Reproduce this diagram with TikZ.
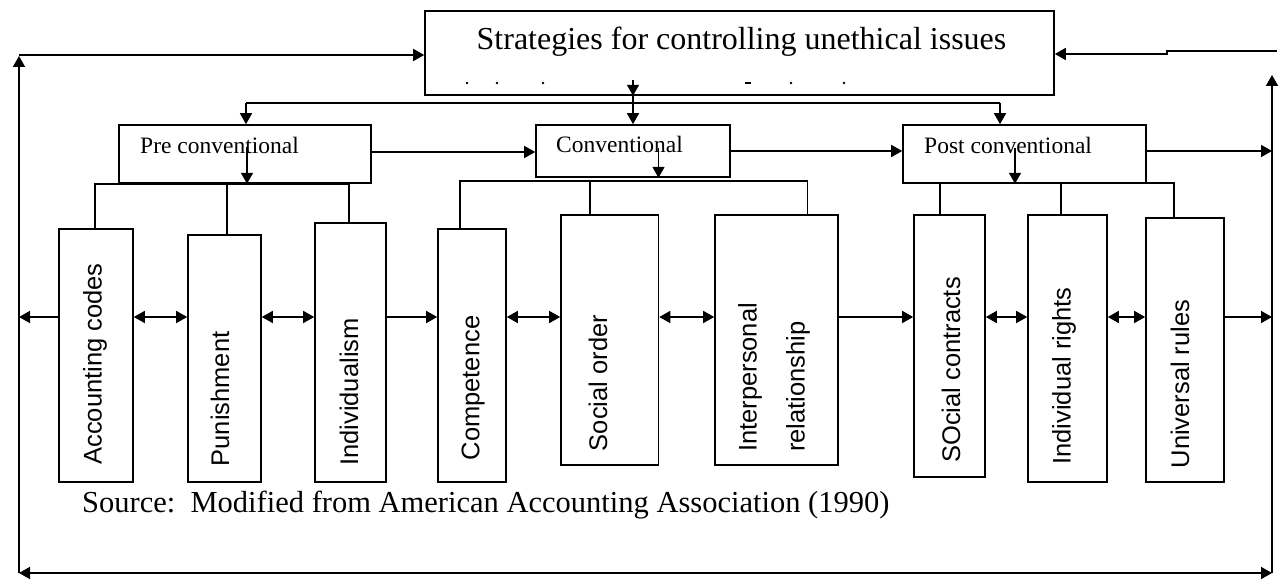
\documentclass[tikz,border=0pt]{standalone}
\usepackage{fontspec}
\setmainfont{Liberation Serif}
\newfontfamily\arialf{Liberation Sans}
\usetikzlibrary{arrows.meta}
\begin{document}
\begin{tikzpicture}[x=1pt,y=-1pt,
  boxst/.style={draw, line width=1.6pt, inner sep=0pt, rectangle},
  ln/.style={line width=1.6pt},
  arr/.style={ln, -{Triangle[length=11pt,width=12pt]}},
  darr/.style={ln, {Triangle[length=11pt,width=12pt]}-{Triangle[length=11pt,width=12pt]}},
  vlab/.style={rotate=90, font=\arialf\fontsize{25.5}{30}\selectfont, inner sep=0pt},
  hlab/.style={font=\fontsize{23.5}{28}\selectfont, inner sep=0pt, anchor=base west}]
\useasboundingbox (0,0) rectangle (1285,580);

% boxes
\node[boxst, minimum width=629pt, minimum height=84pt] (top) at (739.5,53) {};
\node[boxst, minimum width=252pt, minimum height=58pt] (pre) at (245,154) {};
\node[boxst, minimum width=194pt, minimum height=52pt] (conv) at (633,151) {};
\node[boxst, minimum width=243pt, minimum height=58pt] (post) at (1024.5,154) {};
\node[boxst, minimum width=74pt, minimum height=253pt] (acc) at (96,355.5) {};
\node[boxst, minimum width=73pt, minimum height=247pt] (pun) at (224.5,358.5) {};
\node[boxst, minimum width=71pt, minimum height=259pt] (ind) at (350.5,352.5) {};
\node[boxst, minimum width=68pt, minimum height=253pt] (comp) at (472,355.5) {};
\node[boxst, minimum width=97.5pt, minimum height=250pt] (soc) at (609.75,340) {};
\node[boxst, minimum width=123pt, minimum height=250pt] (inter) at (776.5,340) {};
\node[boxst, minimum width=71pt, minimum height=262pt] (scon) at (949.5,346) {};
\node[boxst, minimum width=79pt, minimum height=267pt] (irig) at (1067.5,348.5) {};
\node[boxst, minimum width=78pt, minimum height=264pt] (univ) at (1185,350) {};

% texts
\node[font=\fontsize{32}{38}\selectfont, anchor=base, inner sep=0pt] (title) at (741.5,50) {Strategies for controlling unethical issues};
\foreach \dx in {467,497,543,791,844} \fill (\dx,83) circle (1.3pt);
\draw[line width=1.6pt] (745,83) -- (751,83);
\node[hlab] (prel) at (140,154) {Pre conventional};
\node[hlab] (convl) at (556,153) {Conventional};
\node[hlab] (postl) at (924,154) {Post conventional};
\node[vlab] (accl) at (95,364) {Accounting codes};
\node[vlab] (punl) at (220,399) {Punishment};
\node[vlab] (indl) at (349,392) {Individualism};
\node[vlab] (compl) at (473,388) {Competence};
\node[vlab] (socl) at (598,383) {Social order};
\node[vlab, anchor=west, align=left, font=\arialf\fontsize{25.5}{48}\selectfont] (interl) at (774,452) {Interpersonal\\relationship};
\node[vlab] (sconl) at (951,370) {SOcial contracts};
\node[vlab] (irigl) at (1064,376) {Individual rights};
\node[vlab] (univl) at (1180,384) {Universal rules};
\node[font=\fontsize{30.5}{36}\selectfont, anchor=base west, inner sep=0pt] (src) at (82,512) {Source:\ \ Modified from American Accounting Association (1990)};

% outer loop
\coordinate (LT) at (19,56);
\coordinate (LTc) at (19,55);
\coordinate (LB) at (19,573);
\coordinate (RB) at (1272,573);
\coordinate (RT) at (1272,75);
\coordinate (RTe) at (1277,51);
\coordinate (LM) at (19,317);
\coordinate (RM) at (1272,317);
\coordinate (RU) at (1272,151);
\draw[arr] (LB) -- (LT);
\draw[arr] (LTc) -- (top.west |- LTc);
\draw[darr] (LB) -- (RB);
\draw[arr] (RB) -- (RT);
\draw[arr] (RTe) -- (1167,51) -- (1167,54) -- (top.east |- 0,54);

% distribution
\coordinate (D) at (633,103);
\draw[arr] (633,80) -- (633,0 |- top.south);
\draw[ln] (633,0 |- top.south) -- (D);
\draw[ln] (246,103) -- (1000,103);
\draw[arr] (246,103) -- (246,0 |- pre.north);
\draw[arr] (D) -- (conv.north);
\draw[arr] (1000,103) -- (1000,0 |- post.north);

% level arrows
\draw[arr] (pre.east |- 0,152) -- (conv.west |- 0,152);
\draw[arr] (conv.east |- 0,151) -- (post.west |- 0,151);
\draw[arr] (post.east |- RU) -- (RU);
\draw[arr] (247,147) -- (247,0 |- pre.south);
\draw[arr] (658.5,148) -- (658.5,0 |- conv.south);
\draw[arr] (1015,148) -- (1015,0 |- post.south);

% brackets
\draw[ln] (95,0 |- acc.north) -- (95,184) -- (349,184) -- (349,0 |- ind.north);
\draw[ln] (227,184) -- (227,0 |- pun.north);
\draw[ln] (460,0 |- comp.north) -- (460,181) -- (807.5,181) -- (807.5,0 |- inter.north);
\draw[ln] (590,181) -- (590,0 |- soc.north);
\draw[ln] (940,0 |- scon.north) -- (940,183) -- (1174,183) -- (1174,0 |- univ.north);
\draw[ln] (1061,183) -- (1061,0 |- irig.north);

% row arrows
\draw[arr] (acc.west |- LM) -- (LM);
\draw[darr] (acc.east |- LM) -- (pun.west |- LM);
\draw[darr] (pun.east |- LM) -- (ind.west |- LM);
\draw[arr] (ind.east |- LM) -- (comp.west |- LM);
\draw[darr] (comp.east |- LM) -- (soc.west |- LM);
\draw[darr] (soc.east |- LM) -- (inter.west |- LM);
\draw[arr] (inter.east |- LM) -- (scon.west |- LM);
\draw[darr] (scon.east |- LM) -- (irig.west |- LM);
\draw[darr] (irig.east |- LM) -- (univ.west |- LM);
\draw[arr] (univ.east |- LM) -- (RM);
\end{tikzpicture}
\end{document}
